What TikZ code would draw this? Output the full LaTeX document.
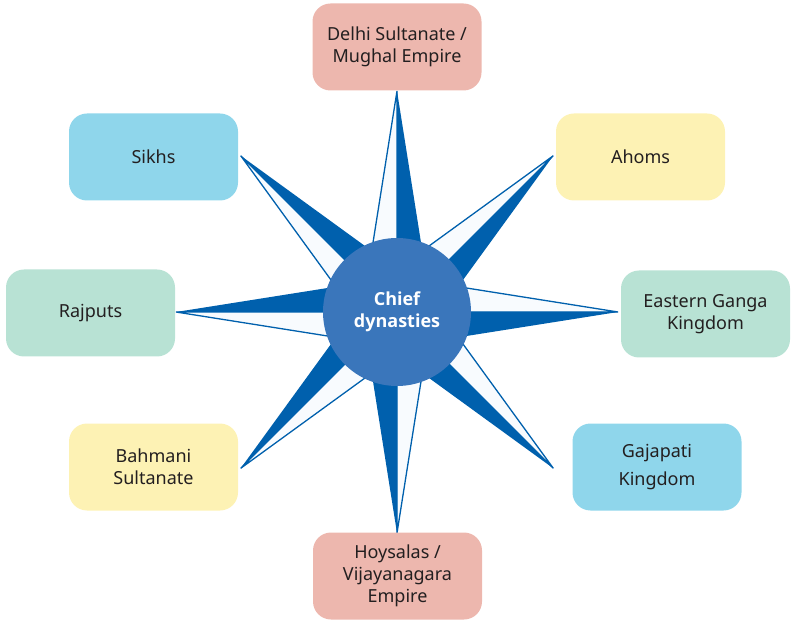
\documentclass[tikz,border=0pt]{standalone}
\usepackage{fontspec}
\setmainfont{Noto Sans}
\newfontfamily\hubfont{Open Sans}
\definecolor{armblue}{HTML}{0060AD}
\definecolor{hubblue}{HTML}{3A76BB}
\definecolor{palewhite}{HTML}{F8FBFE}
\definecolor{rosebox}{HTML}{EDB7AE}
\definecolor{skybox}{HTML}{8FD6EB}
\definecolor{sandbox}{HTML}{FDF2B4}
\definecolor{mintbox}{HTML}{B8E2D4}
\definecolor{inktext}{HTML}{231F20}

\begin{document}
\begin{tikzpicture}[x=1pt,y=1pt,
  dyn/.style={rounded corners=18pt,align=center,text=inktext,minimum width=169pt,minimum height=87pt,inner sep=2pt,
    font=\fontsize{18}{22}\selectfont},
  hub/.style={circle,fill=hubblue,minimum size=148pt,inner sep=0pt,align=center,text=white,
    font=\hubfont\fontsize{18}{22}\selectfont\bfseries}]
\useasboundingbox (0,0) rectangle (794,624);
\coordinate (c) at (397,312);
% star arms: one half filled, one half outlined
\foreach \a in {0,45,...,315} {
  \filldraw[fill=palewhite,draw=armblue,line width=1.3pt]
    (c) -- ([shift={(\a+90:35)}]c) -- ([shift={(\a:221)}]c) -- cycle;
  \fill[armblue] (c) -- ([shift={(\a-90:35)}]c) -- ([shift={(\a:221)}]c) -- cycle;
}
\node[hub] (h) at (c) {Chief\\dynasties};
\node[dyn,fill=rosebox] (delhi) at (397,577) {Delhi Sultanate /\\Mughal Empire};
\node[dyn,fill=skybox] (sikh) at (153.5,467) {Sikhs};
\node[dyn,fill=sandbox] (ahom) at (640.5,467) {Ahoms};
\node[dyn,fill=mintbox] (rajput) at (90.5,311) {Rajputs};
\node[dyn,fill=mintbox] (ganga) at (705.5,310) {Eastern Ganga\\Kingdom};
\node[dyn,fill=sandbox] (bahmani) at (153.5,157) {Bahmani\\Sultanate};
\node[dyn,fill=skybox] (gaja) at (657,157) {Gajapati\\[6pt]Kingdom};
\node[dyn,fill=rosebox] (hoysala) at (397.5,48) {Hoysalas /\\Vijayanagara\\Empire};
\end{tikzpicture}
\end{document}
